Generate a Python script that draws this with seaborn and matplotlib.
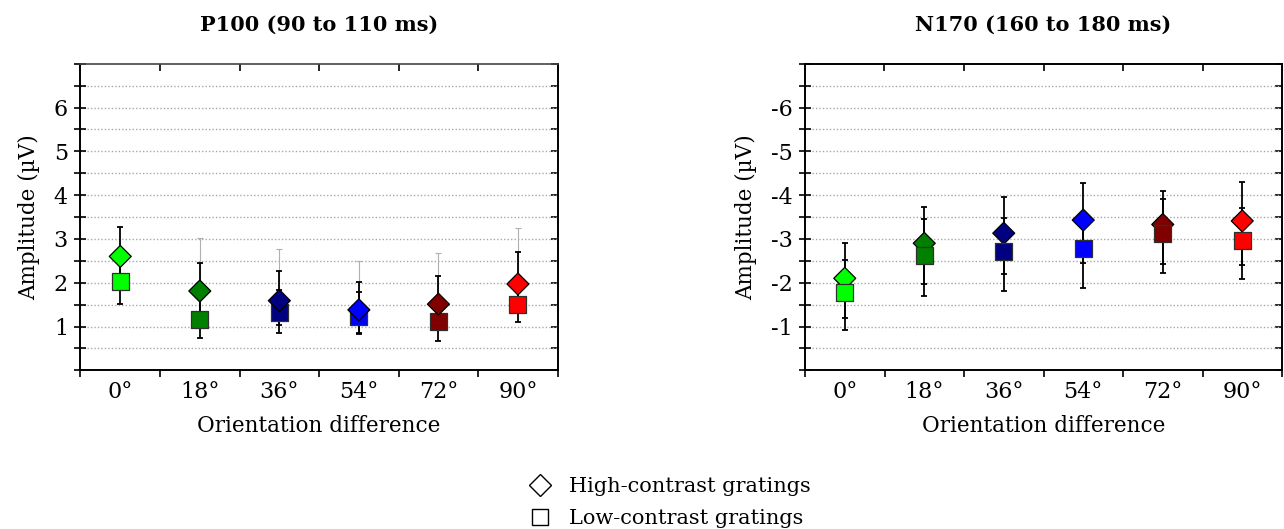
import numpy as np
import pandas as pd
import matplotlib
matplotlib.use("Agg")
import matplotlib.pyplot as plt
from matplotlib.lines import Line2D
import seaborn as sns

categories = ['0°', '18°', '36°', '54°', '72°', '90°']
colors = ['#00ff00', '#008000', '#000080', '#0000ff', '#800000', '#ff0000']

# P100 (90 to 110 ms)
p100_high = [2.60, 1.81, 1.59, 1.38, 1.51, 1.97]
p100_low = [2.02, 1.15, 1.32, 1.22, 1.12, 1.51]
p100_high_top = [3.28, 2.46, 2.27, 2.02, 2.16, 2.69]
p100_high_bot = [1.91, 1.17, 0.86, 0.83, 1.00, 1.40]
p100_low_top = [2.53, 1.62, 1.83, 1.79, 1.56, 1.91]
p100_low_bot = [1.51, 0.73, 1.03, 0.86, 0.68, 1.11]
p100_grey_top = [np.nan, 3.03, 2.76, 2.50, 2.67, 3.24]

# N170 (160 to 180 ms)
n170_high = [-2.10, -2.90, -3.13, -3.43, -3.33, -3.41]
n170_low = [-1.78, -2.63, -2.71, -2.78, -3.13, -2.96]
n170_high_top = [-3.00, -3.83, -4.06, -4.42, -4.24, -4.41]
n170_high_bot = [-1.30, -2.08, -2.30, -2.58, -2.57, -2.52]
n170_low_top = [-2.63, -3.56, -3.60, -3.69, -4.03, -3.83]
n170_low_bot = [-1.04, -1.80, -1.94, -1.99, -2.35, -2.21]

sns.set_theme(style='white')
plt.rcParams['font.family'] = ['DejaVu Serif', 'Liberation Serif']
plt.rcParams['axes.unicode_minus'] = False
for k in ('text.color', 'axes.labelcolor', 'xtick.color', 'ytick.color',
          'xtick.labelcolor', 'ytick.labelcolor'):
    plt.rcParams[k] = 'black'

W, H = 1284, 529
fig = plt.figure(figsize=(W / 100, H / 100), dpi=100)
bottom = 1 - 370.3 / H
height = (370.3 - 63.7) / H
ax1 = fig.add_axes([80.5 / W, bottom, (557.7 - 80.5) / W, height])
ax2 = fig.add_axes([805 / W, bottom, (1282 - 805) / W, height])

pos = np.arange(len(categories))


def draw(ax, high, low, htop, hbot, ltop, lbot, grey=None, squares_on_top=False):
    high = np.array(high); low = np.array(low)
    if grey is not None:
        g = np.array(grey)
        m = ~np.isnan(g)
        ax.errorbar(pos[m], high[m], yerr=[np.zeros(m.sum()), np.abs(g[m] - high[m])],
                    fmt='none', ecolor='#b0b0b0', elinewidth=0.8, capsize=2.5,
                    capthick=0.8, zorder=1.5)
    for vals, top, bot in ((high, htop, hbot), (low, ltop, lbot)):
        top = np.array(top); bot = np.array(bot)
        ax.errorbar(pos, vals, yerr=[np.abs(vals - bot), np.abs(top - vals)],
                    fmt='none', ecolor='black', elinewidth=1.3, capsize=2.5,
                    capthick=1.3, zorder=2)
    df_h = pd.DataFrame({'pos': pos, 'amp': high, 'orientation': categories})
    df_l = pd.DataFrame({'pos': pos, 'amp': low, 'orientation': categories})
    zh, zl = (3, 4) if squares_on_top else (4, 3)
    sns.scatterplot(data=df_h, x='pos', y='amp', hue='orientation', palette=colors,
                    hue_order=categories, marker='D', s=125, edgecolor='black',
                    linewidth=0.9, legend=False, ax=ax, zorder=zh)
    sns.scatterplot(data=df_l, x='pos', y='amp', hue='orientation', palette=colors,
                    hue_order=categories, marker='s', s=150, edgecolor='#303030',
                    linewidth=0.9, legend=False, ax=ax, zorder=zl)


draw(ax1, p100_high, p100_low, p100_high_top, p100_high_bot, p100_low_top,
     p100_low_bot, grey=p100_grey_top)
draw(ax2, n170_high, n170_low, n170_high_top, n170_high_bot, n170_low_top,
     n170_low_bot, squares_on_top=True)

fs = 15.5
for ax, sign, title in ((ax1, 1, 'P100 (90 to 110 ms)'), (ax2, -1, 'N170 (160 to 180 ms)')):
    ax.set_xlim(-0.5, 5.5)
    if sign > 0:
        ax.set_ylim(0, 7)
    else:
        ax.set_ylim(0, -7)
    yt = np.arange(0, 7.01, 0.5) * sign
    ax.set_yticks(yt)
    ax.set_yticklabels([str(int(round(v))) if (abs(v) % 1 == 0 and 0 < abs(v) < 7) else ''
                        for v in yt], fontsize=16)
    ax.set_xticks(np.arange(-0.5, 6, 1))
    ax.set_xticklabels([])
    ax.set_xticks(pos, minor=True)
    ax.set_xticklabels(categories, minor=True, fontsize=16)
    ax.tick_params(axis='x', which='major', direction='out', length=5, width=1.2,
                   color='black', bottom=True)
    ax.tick_params(axis='x', which='minor', length=0, pad=8)
    ax.tick_params(axis='y', which='major', direction='inout', length=8, width=1.2,
                   color='black', left=True, pad=5)
    for v in yt:
        if 0 < abs(v) < 7:
            ax.axhline(v, color='#a8a8a8', lw=1.0, ls=(0, (1, 1.5)), zorder=0.5)
    for s in ax.spines.values():
        s.set_color('black')
        s.set_linewidth(1.4)
    if sign > 0:
        ax.spines['top'].set_linestyle((0, (1, 1)))
        ax.spines['top'].set_color('#444444')
        ax.spines['top'].set_linewidth(1.2)
    top = ax.secondary_xaxis('top')
    top.set_xticks(np.arange(-0.5, 6, 1))
    top.set_xticklabels([])
    top.tick_params(direction='in', length=5, width=1.2, color='black')
    top.spines['top'].set_visible(False)
    right = ax.secondary_yaxis('right')
    right.set_yticks(yt)
    right.set_yticklabels([])
    right.tick_params(direction='in', length=5, width=1.2, color='black')
    right.spines['right'].set_visible(False)
    ax.set_xlabel('Orientation difference', fontsize=fs, labelpad=8)
    ax.set_ylabel('Amplitude (µV)', fontsize=fs, labelpad=10)
    ax.set_title(title, fontsize=15, fontweight='bold', pad=24)

handles = [Line2D([], [], marker='D', ls='', mfc='white', mec='black', ms=11, mew=1),
           Line2D([], [], marker='s', ls='', mfc='white', mec='black', ms=11, mew=1)]
fig.legend(handles, ['High-contrast gratings', 'Low-contrast gratings'],
           loc='upper left', bbox_to_anchor=(517 / W, 1 - 467 / H), frameon=False,
           fontsize=15, handletextpad=0.8, labelspacing=0.6, borderpad=0,
           handlelength=1.2)

fig.savefig('out.png', dpi=100)
